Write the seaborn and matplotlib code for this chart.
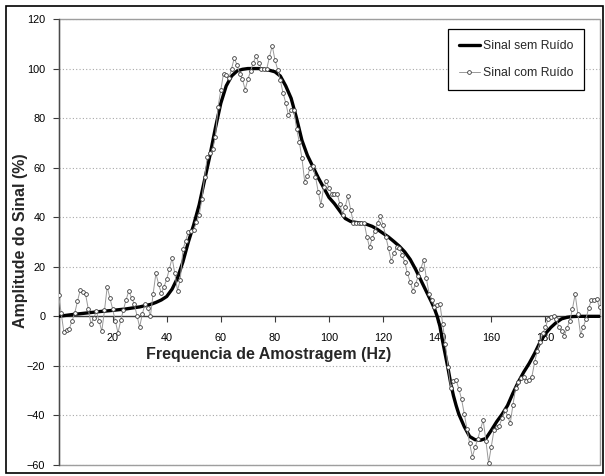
import matplotlib
matplotlib.use("Agg")
import matplotlib.pyplot as plt
from matplotlib.patches import Rectangle
import seaborn as sns

# ---------------- data ----------------
freq_noisy = list(range(0, 201))
signal_noisy = [
    8.5, 1.3, -6.5, -5.4, -5.0, -1.8, 1.3, 6.0, 10.5, 9.7,
    9.0, 3.0, -3.0, -0.7, 2.0, -1.8, -6.0, 2.4, 11.9, 7.4,
    3.0, -1.8, -6.7, -1.6, 2.7, 6.7, 10.3, 7.4, 5.0, 0.3,
    -4.3, 1.0, 5.0, 3.4, 0.3, 9.2, 17.3, 13.0, 9.4, 11.9,
    15.0, 19.2, 23.6, 17.3, 10.4, 14.8, 27.0, 30.5, 34.0, 34.5,
    35.0, 38.0, 40.9, 47.2, 56.1, 64.2, 65.8, 67.4, 72.5, 84.6,
    91.3, 98.0, 97.3, 96.0, 100.0, 104.4, 101.3, 98.0, 95.6, 91.5,
    95.6, 99.0, 102.3, 105.0, 102.3, 100.0, 100.0, 100.0, 104.7, 109.3,
    103.6, 99.6, 95.3, 90.2, 86.2, 81.2, 83.2, 83.2, 75.8, 70.5,
    63.8, 54.4, 56.6, 59.7, 60.7, 56.4, 50.3, 45.0, 52.0, 54.5,
    51.8, 49.5, 49.5, 49.5, 45.4, 40.9, 44.3, 48.4, 43.0, 37.8,
    37.8, 37.8, 37.8, 37.8, 32.2, 27.8, 31.5, 34.6, 37.8, 40.3,
    36.9, 32.2, 27.4, 22.4, 25.4, 27.8, 27.4, 24.7, 22.0, 17.3,
    13.9, 10.3, 13.0, 16.2, 19.3, 22.7, 15.3, 9.2, 6.5, 3.8,
    4.5, 5.1, -3.0, -11.0, -20.3, -29.0, -26.0, -25.7, -29.3, -33.4,
    -39.4, -45.5, -51.3, -56.7, -52.9, -49.5, -45.5, -41.9, -50.2, -59.2,
    -52.6, -45.9, -44.8, -44.1, -41.0, -37.8, -40.1, -43.2, -35.7, -28.9,
    -26.6, -24.9, -24.4, -26.0, -25.7, -24.4, -18.6, -13.9, -10.5, -6.9,
    -4.5, -1.1, -0.4, 0.1, -1.1, -4.5, -6.1, -7.8, -4.7, -1.8,
    3.0, 9.0, 1.0, -7.4, -4.2, -1.1, 3.4, 6.4, 6.6, 7.0,
    3.6,
]

freq_clean = [0, 5, 10, 15, 20, 25, 30,
              34, 36, 38, 40, 42, 44, 46, 48, 50] + \
             list(range(52, 139, 2)) + \
             [139, 140, 141, 142, 143, 144, 145, 146, 147, 148] + \
             list(range(150, 193, 2)) + [196, 200]
signal_clean = [
    0.0, 0.7, 1.3, 1.9, 2.4, 3.0, 3.8,
    4.8, 5.6, 6.6, 8.0, 11.0, 15.5, 22.0, 30.0, 37.0,
    45, 55, 65, 76, 86, 93, 97, 99, 99.7, 100,
    100, 100, 99.7, 99.3, 98.7, 97, 93, 88, 80, 71,
    65, 60.5, 56, 52, 48, 45.5, 42.5, 39.5, 38.3, 37.9,
    37.6, 37.1, 36.3, 35, 33.5, 32, 30.2, 28.3, 26, 23,
    19, 14.5, 10, 5.5,
    3, 0, -4, -10, -15.5, -21, -27, -32, -36, -39.5,
    -44.5, -48.5, -49.8, -50, -49.3, -46, -42.5, -39.5, -36, -31,
    -26.5, -22.5, -19, -15, -10.5, -7, -4.5, -2.5, -1, -0.4,
    -0.1, 0,
    0, 0,
]

x_ticks = [20, 40, 60, 80, 100, 120, 140, 160, 180]
y_ticks = [-60, -40, -20, 0, 20, 40, 60, 80, 100, 120]

label_clean = "Sinal sem Ruído"
label_noisy = "Sinal com Ruído"
x_title = "Frequencia de Amostragem (Hz)"
y_title = "Amplitude do Sinal (%)"

# ---------------- style ----------------
sns.set_theme(style="white")
plt.rcParams["font.family"] = ["Liberation Sans", "DejaVu Sans"]

W, H = 605, 476
fig = plt.figure(figsize=(W / 100, H / 100), dpi=100)
fig.patch.set_facecolor("white")

left_px, right_px, top_px, bot_px = 58.5, 599.5, 19, 465
ax = fig.add_axes([left_px / W, (H - bot_px) / H,
                   (right_px - left_px) / W, (bot_px - top_px) / H])

sns.lineplot(x=freq_clean, y=signal_clean, ax=ax, color="black",
             linewidth=2.4, label=label_clean, sort=False,
             solid_joinstyle="round", zorder=3)
sns.lineplot(x=freq_noisy, y=signal_noisy, ax=ax, color="#999999",
             linewidth=0.7, marker="o", markersize=2.7,
             markerfacecolor="white", markeredgecolor="#3a3a3a",
             markeredgewidth=0.6, label=label_noisy, sort=False, zorder=4)

ax.set_xlim(0, 200)
ax.set_ylim(-60, 120)
ax.set_xticks(x_ticks)
ax.set_yticks(y_ticks)

# gridlines
ax.yaxis.grid(True, linestyle=(0, (1, 2)), color="#a8a8a8", linewidth=0.8)
ax.xaxis.grid(False)
ax.set_axisbelow(True)

# spines: x axis crosses at y = 0
for s in ["top", "right"]:
    ax.spines[s].set_visible(False)
ax.spines["bottom"].set_position(("data", 0))
ax.spines["bottom"].set_color("#3a3a3a")
ax.spines["bottom"].set_linewidth(1.0)
ax.spines["left"].set_color("#4a4a4a")
ax.spines["left"].set_linewidth(1.0)
ax.spines["bottom"].set_zorder(2)

# plot-area border
ax.add_patch(Rectangle((0, 0), 1, 1, transform=ax.transAxes, fill=False,
                       edgecolor="#9e9e9e", linewidth=1.0, clip_on=False,
                       zorder=1))

ax.tick_params(axis="x", direction="out", length=4, width=0.8,
               color="#3a3a3a", pad=8, labelsize=7.8, labelcolor="black",
               bottom=True)
ax.tick_params(axis="y", direction="out", length=4, width=0.8,
               color="#3a3a3a", pad=5.5, labelsize=7.8, labelcolor="black",
               left=True)

ax.set_xlabel(x_title, fontsize=11.5, fontweight="bold", va="center")
ax.xaxis.set_label_coords((269 - left_px) / (right_px - left_px),
                          (bot_px - 355) / (bot_px - top_px))
ax.set_ylabel(y_title, fontsize=11.5, fontweight="bold", va="center")
ax.yaxis.set_label_coords((21 - left_px) / (right_px - left_px),
                          (bot_px - 241) / (bot_px - top_px))

leg = ax.legend(loc="upper right",
                bbox_to_anchor=((584 - left_px) / (right_px - left_px),
                                1 - (29 - top_px) / (bot_px - top_px)),
                frameon=True, fancybox=False, shadow=False, fontsize=8.8,
                borderpad=0.9, labelspacing=1.25, handlelength=1.7,
                handletextpad=0.25, borderaxespad=0.0)
leg.get_frame().set_edgecolor("black")
leg.get_frame().set_linewidth(0.9)
leg.get_frame().set_facecolor("white")
leg.get_frame().set_alpha(1)
leg.set_zorder(10)

# outer chart border
fig.add_artist(Rectangle((6 / W, (H - 473) / H), (603 - 6) / W, (473 - 6) / H,
                         transform=fig.transFigure, fill=False,
                         edgecolor="black", linewidth=1.2))

fig.savefig("out.png", dpi=100, facecolor="white")
